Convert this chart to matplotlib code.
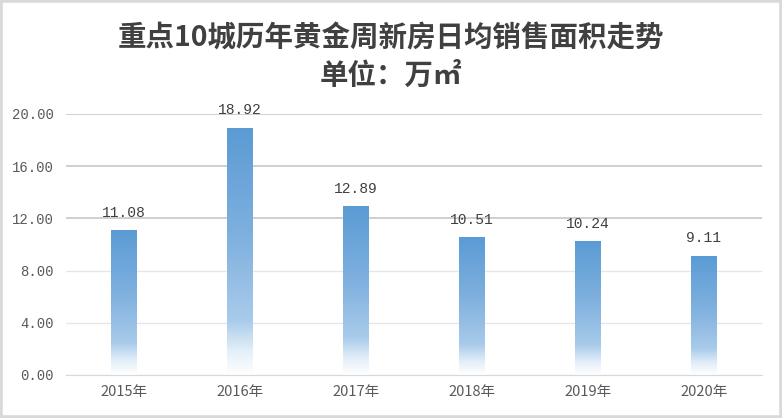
import matplotlib.pyplot as plt
import numpy as np
from matplotlib.colors import LinearSegmentedColormap
from matplotlib.patches import Rectangle

plt.rcParams['font.family'] = ['Noto Sans CJK SC', 'DejaVu Sans']

years = ['2015年', '2016年', '2017年', '2018年', '2019年', '2020年']
area = [11.08, 18.92, 12.89, 10.51, 10.24, 9.11]
yticks = [0, 4, 8, 12, 16, 20]

fig = plt.figure(figsize=(7.82, 4.18), dpi=100)
ax = fig.add_axes([0.0844, 0.1029, 0.8896, 0.6244])

x = np.arange(len(years))
bars = ax.bar(x, area, width=0.22, color='none', zorder=2)

# gradient: blue at the top fading to white at the bottom
cmap = LinearSegmentedColormap.from_list(
    'fade', [(0.0, '#ffffff'), (0.1, '#e2eef9'), (0.22, '#a9cbea'),
             (0.55, '#80b1df'), (1.0, '#5b9bd5')])
grad = np.linspace(0, 1, 256).reshape(-1, 1)
for b in bars:
    x0, w, h = b.get_x(), b.get_width(), b.get_height()
    ax.imshow(grad, extent=[x0, x0 + w, 0, h], origin='lower', cmap=cmap,
              aspect='auto', zorder=2, interpolation='bicubic')
    ax.text(x0 + w / 2, h + 1.05, f'{h:.2f}', ha='center', va='baseline',
            fontsize=10.5, color='#404040', family='Liberation Mono')

ax.set_xlim(-0.5, len(years) - 0.5)
ax.set_ylim(0, 20)
ax.set_xticks(x)
ax.set_xticklabels(years, fontsize=10.5, color='#595959')
ax.set_yticks(yticks)
ax.set_yticklabels([f'{v:.2f}' for v in yticks], fontsize=10, color='#595959',
                   family='Liberation Mono')
ax.tick_params(length=0, pad=9)
ax.tick_params(axis='x', pad=7)
ax.grid(axis='y', color='#e6e6e6', linewidth=1, zorder=0)
for v, gl in zip(yticks, ax.get_ygridlines()):
    if v >= 12:
        gl.set_color('#cccccc')
        gl.set_linewidth(1.3)
ax.set_axisbelow(True)
for s in ['top', 'right', 'left']:
    ax.spines[s].set_visible(False)
ax.spines['bottom'].set_color('#d9d9d9')

fig.text(0.5, 0.907, '重点10城历年黄金周新房日均销售面积走势', ha='center', va='center',
         fontsize=20.5, fontweight='bold', color='#404040')
fig.text(0.5, 0.818, '单位：万㎡', ha='center', va='center',
         fontsize=20.5, fontweight='bold', color='#404040')

fig.patches.append(Rectangle((0, 0), 1, 1, transform=fig.transFigure, fill=False,
                             edgecolor='#d9d9d9', linewidth=4))

fig.savefig('out.png', dpi=100)
